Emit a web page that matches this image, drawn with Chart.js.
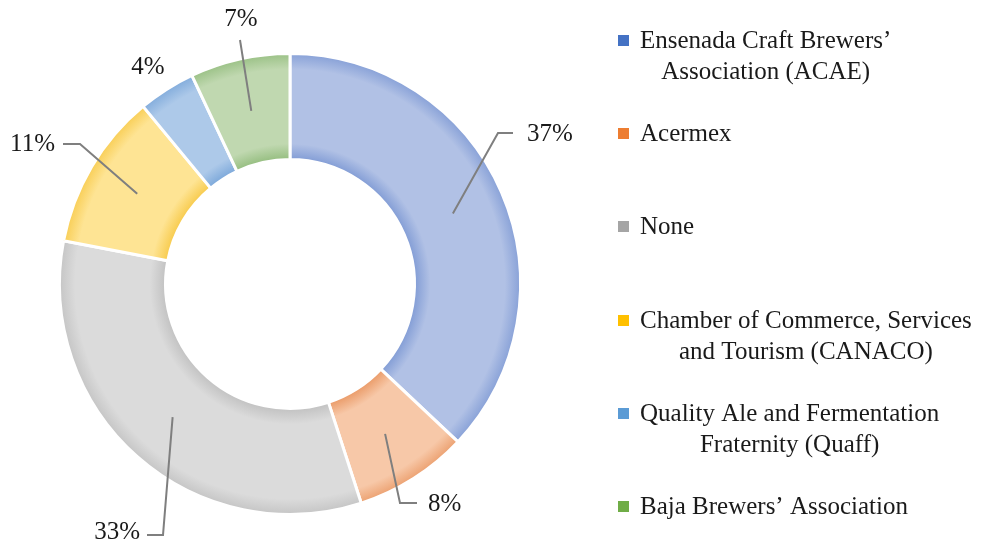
<!DOCTYPE html>
<html>
<head>
<meta charset="utf-8">
<script src="https://cdn.jsdelivr.net/npm/chart.js@4"></script>
<style>
  html, body { margin: 0; padding: 0; background: #fff; }
  #wrap { width: 982px; height: 546px; position: relative; }
</style>
</head>
<body>
<div id="wrap"><canvas id="chart"></canvas></div>
<script>
// data
const categories = [
    ['Ensenada Craft Brewers’', 'Association (ACAE)'],
    ['Acermex'],
    ['None'],
    ['Chamber of Commerce, Services', 'and Tourism (CANACO)'],
    ['Quality Ale and Fermentation', 'Fraternity (Quaff)'],
    ['Baja Brewers’ Association']
];
const shares = [37, 8, 33, 11, 4, 7];
const shareLabels = ['37%', '8%', '33%', '11%', '4%', '7%'];

// styles
const legendColors = ['#4472c4', '#ed7d31', '#a5a5a5', '#ffc000', '#5b9bd5', '#70ad47'];
const innerColors = ['#b1c1e5', '#f7c8a8', '#dbdbdb', '#fee494', '#adc9e9', '#c0d8b0'];
const edgeColors = ['#849ed6', '#eb9d6b', '#c3c3c3', '#f8cc50', '#7faadb', '#97bf82'];
const serif = '"Liberation Serif", "Times New Roman", serif';
const cutoutRatio = 0.54;

// label placement relative to the doughnut centre: elbow, line end, text point, alignment
const labelLayout = [
    { elbow: [208, -151], end: [223, -151], text: [237, -150], align: 'left' },
    { elbow: [110, 219], end: [127, 219], text: [138, 220], align: 'left' },
    { elbow: [-127, 251], end: [-143, 251], text: [-150, 248], align: 'right' },
    { elbow: [-210, -140], end: [-227, -140], text: [-235, -140], align: 'right' },
    { elbow: null, end: null, text: [-142, -217], align: 'center' },
    { elbow: null, end: [-50, -244], text: [-49, -265], align: 'center' }
];

function sliceFill(context) {
    const chart = context.chart;
    const area = chart.chartArea;
    const i = context.dataIndex;
    if (!area) return innerColors[i];
    const cx = (area.left + area.right) / 2;
    const cy = (area.top + area.bottom) / 2;
    const outer = Math.min(area.right - area.left, area.bottom - area.top) / 2;
    const inner = outer * cutoutRatio;
    const g = chart.ctx.createRadialGradient(cx, cy, inner, cx, cy, outer);
    g.addColorStop(0, edgeColors[i]);
    g.addColorStop(0.14, innerColors[i]);
    g.addColorStop(0.84, innerColors[i]);
    g.addColorStop(1, edgeColors[i]);
    return g;
}

const labelPlugin = {
    id: 'sliceLabels',
    afterDatasetsDraw(chart) {
        const ctx = chart.ctx;
        const meta = chart.getDatasetMeta(0);
        ctx.save();
        meta.data.forEach((arc, i) => {
            const cx = arc.x, cy = arc.y;
            const lay = labelLayout[i];
            const start = arc.tooltipPosition();
            if (lay.end) {
                ctx.strokeStyle = '#7f7f7f';
                ctx.lineWidth = 2;
                ctx.beginPath();
                ctx.moveTo(start.x, start.y);
                if (lay.elbow) ctx.lineTo(cx + lay.elbow[0], cy + lay.elbow[1]);
                ctx.lineTo(cx + lay.end[0], cy + lay.end[1]);
                ctx.stroke();
            }
            ctx.fillStyle = '#1a1a1a';
            ctx.font = '25px ' + serif;
            ctx.textAlign = lay.align;
            ctx.textBaseline = 'middle';
            ctx.fillText(shareLabels[i], cx + lay.text[0], cy + lay.text[1]);
        });
        ctx.restore();
    }
};

const legendPlugin = {
    id: 'sideLegend',
    afterDraw(chart) {
        const ctx = chart.ctx;
        ctx.save();
        ctx.font = '25px ' + serif;
        ctx.textBaseline = 'middle';
        const left = 640, top = 41, step = 93.2, lineH = 31;
        chart.data.labels.forEach((lines, i) => {
            const y = Math.round(top + i * step);
            ctx.fillStyle = legendColors[i];
            ctx.fillRect(618, y - 6, 11, 11);
            ctx.fillStyle = '#1a1a1a';
            const firstW = ctx.measureText(lines[0]).width;
            const mid = left + firstW / 2;
            lines.forEach((t, k) => {
                if (k === 0) {
                    ctx.textAlign = 'left';
                    ctx.fillText(t, left, y);
                } else {
                    ctx.textAlign = 'center';
                    ctx.fillText(t, mid, y + k * lineH);
                }
            });
        });
        ctx.restore();
    }
};

new Chart(document.getElementById('chart'), {
    type: 'doughnut',
    data: {
        labels: categories,
        datasets: [{
            data: shares,
            backgroundColor: sliceFill,
            borderColor: '#ffffff',
            borderWidth: 3
        }]
    },
    options: {
        responsive: true,
        maintainAspectRatio: false,
        animation: false,
        cutout: (cutoutRatio * 100) + '%',
        rotation: 0,
        layout: { padding: { left: 58, top: 52, bottom: 30, right: 460 } },
        plugins: {
            legend: { display: false },
            tooltip: { enabled: false }
        }
    },
    plugins: [labelPlugin, legendPlugin]
});
</script>
</body>
</html>
